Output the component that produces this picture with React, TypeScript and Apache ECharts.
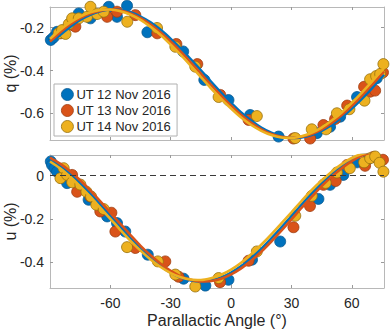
import React, { useEffect, useRef } from "react";
import * as echarts from "echarts";

const nights = ["UT 12 Nov 2016", "UT 13 Nov 2016", "UT 14 Nov 2016"];
const COLORS = ["#0072BD", "#D95319", "#EDB120"];
const EDGES = ["#0b5a91", "#9e3d12", "#94700f"];

const xTicks = [-60, -30, 0, 30, 60];
const qTicks = [-0.6, -0.4, -0.2];
const uTicks = [-0.4, -0.2, 0];

// Observed q (%) vs parallactic angle (deg)
const q12: number[][] = [
  [-89.6, -0.257], [-88.2, -0.245], [-86.5, -0.219], [-75.7, -0.133], [-69.9, -0.156],
  [-60.8, -0.102], [-56.7, -0.149], [-51.7, -0.097], [-41.6, -0.221], [-23.8, -0.311],
  [-13.3, -0.444], [-1.3, -0.538], [9.5, -0.608], [23.6, -0.709], [42.6, -0.693],
  [49.2, -0.663], [54.2, -0.616], [62.6, -0.524], [72.4, -0.436],
];
const q13: number[][] = [
  [-84.8, -0.226], [-79.0, -0.187], [-77.4, -0.195], [-61.6, -0.149], [-56.7, -0.125],
  [-47.6, -0.141], [-36.7, -0.226], [-27.2, -0.276], [-16.8, -0.370], [-5.4, -0.514],
  [8.7, -0.631], [31.0, -0.718], [39.3, -0.718], [45.9, -0.655], [51.7, -0.627],
  [57.7, -0.564], [66.1, -0.476], [69.1, -0.499], [71.6, -0.494], [75.5, -0.409],
];
const q14: number[][] = [
  [-85.7, -0.226], [-84.0, -0.211], [-82.3, -0.229], [-80.7, -0.183], [-79.0, -0.156],
  [-75.7, -0.156], [-71.6, -0.149], [-69.9, -0.102], [-66.6, -0.136], [-63.3, -0.125],
  [-51.6, -0.172], [-36.8, -0.201], [-27.7, -0.289], [-17.8, -0.382], [-6.2, -0.524],
  [12.8, -0.613], [31.9, -0.716], [40.1, -0.675], [47.2, -0.675], [52.6, -0.600],
  [58.8, -0.581], [66.3, -0.541], [69.1, -0.441], [72.1, -0.426], [74.1, -0.416],
  [75.7, -0.370],
];

// Observed u (%) vs parallactic angle (deg)
const u12: number[][] = [
  [-89.6, 0.065], [-89.0, 0.049], [-87.7, 0.034], [-86.5, 0.018], [-81.5, -0.035],
  [-70.8, -0.112], [-61.6, -0.189], [-56.7, -0.220], [-52.6, -0.259], [-41.4, -0.366],
  [-23.6, -0.477], [-12.8, -0.509], [-1.3, -0.482], [10.4, -0.389], [24.4, -0.305],
  [43.4, -0.108], [49.2, -0.043], [55.8, 0.003], [62.6, 0.061], [68.0, 0.075],
];
const u13: number[][] = [
  [-79.0, 0.003], [-76.5, -0.075], [-69.9, -0.097], [-65.0, -0.166], [-59.5, -0.172],
  [-57.5, -0.259], [-47.6, -0.335], [-32.7, -0.397], [-26.1, -0.468], [-5.5, -0.493],
  [8.7, -0.394], [31.0, -0.239], [39.2, -0.141], [45.9, -0.043], [52.0, -0.025],
  [57.7, 0.049], [66.6, 0.045], [70.7, 0.086], [75.5, 0.073],
];
const u14: number[][] = [
  [-84.8, -0.012], [-83.2, 0.034], [-81.5, 0.003], [-79.0, -0.031], [-74.9, -0.042],
  [-71.9, -0.075], [-69.6, -0.097], [-67.0, -0.135], [-63.3, -0.155], [-51.7, -0.331],
  [-36.4, -0.397], [-27.7, -0.458], [-17.8, -0.513], [-6.2, -0.474], [12.8, -0.351],
  [31.9, -0.186], [40.1, -0.094], [47.0, -0.034], [52.6, 0.014], [59.0, 0.034],
  [66.1, 0.061], [69.1, 0.080], [71.6, 0.088], [73.8, 0.059], [75.7, 0.018],
];

// Fitted curves at regular angles
const fitAngles = [
  -90, -85, -80, -75, -70, -65, -60, -55, -50, -45, -40, -35, -30, -25, -20, -15, -10, -5,
  0, 5, 10, 15, 20, 25, 30, 35, 40, 45, 50, 55, 60, 65, 70, 75, 76,
];
const qFit12 = [
  -0.279, -0.234, -0.196, -0.163, -0.139, -0.123, -0.115, -0.117, -0.128, -0.148, -0.175,
  -0.210, -0.252, -0.298, -0.348, -0.399, -0.452, -0.503, -0.551, -0.596, -0.634, -0.667,
  -0.691, -0.707, -0.715, -0.713, -0.702, -0.682, -0.655, -0.620, -0.578, -0.532, -0.483,
  -0.431, -0.420,
];
const qFit13 = [
  -0.265, -0.222, -0.185, -0.155, -0.133, -0.120, -0.115, -0.120, -0.133, -0.155, -0.185,
  -0.222, -0.265, -0.312, -0.363, -0.415, -0.467, -0.518, -0.565, -0.608, -0.645, -0.675,
  -0.697, -0.710, -0.715, -0.710, -0.697, -0.675, -0.645, -0.608, -0.565, -0.518, -0.467,
  -0.415, -0.405,
];
const qFit14 = [
  -0.252, -0.210, -0.175, -0.148, -0.128, -0.117, -0.115, -0.123, -0.139, -0.163, -0.196,
  -0.234, -0.279, -0.327, -0.378, -0.431, -0.483, -0.532, -0.578, -0.620, -0.655, -0.682,
  -0.702, -0.713, -0.715, -0.707, -0.691, -0.667, -0.634, -0.596, -0.551, -0.503, -0.452,
  -0.399, -0.389,
];
const uFit12 = [
  0.075, 0.045, 0.008, -0.036, -0.083, -0.134, -0.187, -0.240, -0.291, -0.339, -0.382,
  -0.419, -0.449, -0.472, -0.485, -0.490, -0.485, -0.472, -0.449, -0.419, -0.382, -0.339,
  -0.291, -0.240, -0.187, -0.134, -0.083, -0.036, 0.008, 0.045, 0.075, 0.097, 0.111,
  0.116, 0.116,
];
const uFit13 = [
  0.083, 0.055, 0.020, -0.022, -0.069, -0.119, -0.171, -0.224, -0.275, -0.325, -0.369,
  -0.408, -0.441, -0.466, -0.482, -0.490, -0.488, -0.477, -0.457, -0.429, -0.394, -0.352,
  -0.305, -0.255, -0.203, -0.150, -0.099, -0.049, -0.005, 0.034, 0.067, 0.092, 0.108,
  0.116, 0.116,
];
const uFit14 = [
  0.065, 0.033, -0.006, -0.050, -0.098, -0.149, -0.200, -0.252, -0.302, -0.347, -0.388,
  -0.423, -0.451, -0.470, -0.481, -0.483, -0.475, -0.459, -0.435, -0.403, -0.364, -0.320,
  -0.272, -0.221, -0.170, -0.118, -0.068, -0.023, 0.018, 0.053, 0.081, 0.100, 0.111,
  0.113, 0.112,
];

const FONT = "'Liberation Sans', Arial, Helvetica, sans-serif";
const AXIS_GRAY = "#b8b8b8";
const TEXT = "#262626";

export default function App() {
  const ref = useRef<HTMLDivElement>(null);

  useEffect(() => {
    if (!ref.current) return;
    const chart = echarts.init(ref.current, undefined, { renderer: "svg" });

    const pair = (ys: number[]) => fitAngles.map((a, i) => [a, ys[i]]);
    const qObs = [q12, q13, q14];
    const uObs = [u12, u13, u14];
    const qFits = [qFit12, qFit13, qFit14];
    const uFits = [uFit12, uFit13, uFit14];

    const xBase = (gridIndex: number, position: "top" | "bottom", labels: boolean, name?: string) => ({
      type: "value",
      gridIndex,
      position,
      min: -90,
      max: 76,
      name: name || "",
      nameLocation: "middle",
      nameGap: 24,
      nameMoveOverlap: false,
      nameTextStyle: { fontFamily: FONT, fontSize: 16, color: TEXT },
      axisLine: { show: true, onZero: false, lineStyle: { color: AXIS_GRAY, width: 1 } },
      axisTick: { show: true, inside: true, length: 3, customValues: xTicks, lineStyle: { color: "#9a9a9a" } },
      axisLabel: {
        show: labels,
        customValues: xTicks,
        margin: 8,
        fontFamily: FONT,
        fontSize: 14,
        color: TEXT,
      },
      splitLine: { show: false },
    });

    const yBase = (
      gridIndex: number,
      position: "left" | "right",
      min: number,
      max: number,
      ticks: number[],
      labels: boolean,
      name?: string
    ) => ({
      type: "value",
      gridIndex,
      position,
      min,
      max,
      name: name || "",
      nameLocation: "middle",
      nameRotate: 90,
      nameGap: 32,
      nameMoveOverlap: false,
      nameTextStyle: { fontFamily: FONT, fontSize: 16, color: TEXT },
      axisLine: { show: true, onZero: false, lineStyle: { color: AXIS_GRAY, width: 1 } },
      axisTick: { show: true, inside: true, length: 3, customValues: ticks, lineStyle: { color: "#9a9a9a" } },
      axisLabel: {
        show: labels,
        customValues: ticks,
        margin: 6,
        fontFamily: FONT,
        fontSize: 14,
        color: TEXT,
      },
      splitLine: { show: false },
    });

    const series: any[] = [];
    // dashed zero reference in the u panel (drawn first, behind points)
    series.push({
      type: "line",
      name: "zero",
      xAxisIndex: 2,
      yAxisIndex: 2,
      data: [],
      silent: true,
      markLine: {
        silent: true,
        symbol: ["none", "none"],
        label: { show: false },
        lineStyle: { type: [6, 4], color: "#3a3a3a", width: 1 },
        data: [{ yAxis: 0 }],
      },
    });

    [0, 1].forEach((panel) => {
      const obs = panel === 0 ? qObs : uObs;
      const fits = panel === 0 ? qFits : uFits;
      const axis = panel === 0 ? 0 : 2;
      for (let k = 0; k < 3; k++) {
        series.push({
          type: "scatter",
          name: nights[k],
          xAxisIndex: axis,
          yAxisIndex: axis,
          data: obs[k],
          symbol: "circle",
          symbolSize: 11,
          clip: false,
          itemStyle: { color: COLORS[k], borderColor: EDGES[k], borderWidth: 0.8, opacity: 1 },
        });
        series.push({
          type: "line",
          name: "fit " + k + " " + panel,
          xAxisIndex: axis,
          yAxisIndex: axis,
          data: pair(fits[k]),
          smooth: 0.3,
          showSymbol: false,
          symbol: "none",
          clip: true,
          lineStyle: { color: COLORS[k], width: 2.6 },
          itemStyle: { color: COLORS[k] },
        });
      }
    });

    chart.setOption({
      animation: false,
      backgroundColor: "#ffffff",
      textStyle: { fontFamily: FONT },
      grid: [
        { left: 50, top: 7, width: 334, height: 133, containLabel: false, outerBoundsMode: "none" },
        { left: 50, top: 155, width: 334, height: 133, containLabel: false, outerBoundsMode: "none" },
      ],
      xAxis: [
        xBase(0, "bottom", false),
        xBase(0, "top", false),
        xBase(1, "bottom", true, "Parallactic Angle (°)"),
        xBase(1, "top", false),
      ],
      yAxis: [
        yBase(0, "left", -0.725, -0.103, qTicks, true, "q (%)"),
        yBase(0, "right", -0.725, -0.103, qTicks, false),
        yBase(1, "left", -0.52, 0.095, uTicks, true, "u (%)"),
        yBase(1, "right", -0.52, 0.095, uTicks, false),
      ],
      legend: {
        show: true,
        selectedMode: false,
        orient: "vertical",
        left: 54,
        top: 84,
        padding: [4, 6, 3, 7],
        itemGap: 3,
        itemWidth: 12,
        itemHeight: 12,
        backgroundColor: "#ffffff",
        borderColor: "#b0b0b0",
        borderWidth: 1,
        borderRadius: 0,
        textStyle: { fontFamily: FONT, fontSize: 13, color: TEXT, padding: [0, 0, 0, -2] },
        data: nights.map((n, k) => ({
          name: n,
          icon: "circle",
          itemStyle: { color: COLORS[k], borderColor: EDGES[k], borderWidth: 0.8 },
        })),
      },
      series,
    });

    return () => {
      chart.dispose();
    };
  }, []);

  return (
    <div
      ref={ref}
      style={{ position: "fixed", left: 0, top: 0, width: 391, height: 333, background: "#fff" }}
    />
  );
}
